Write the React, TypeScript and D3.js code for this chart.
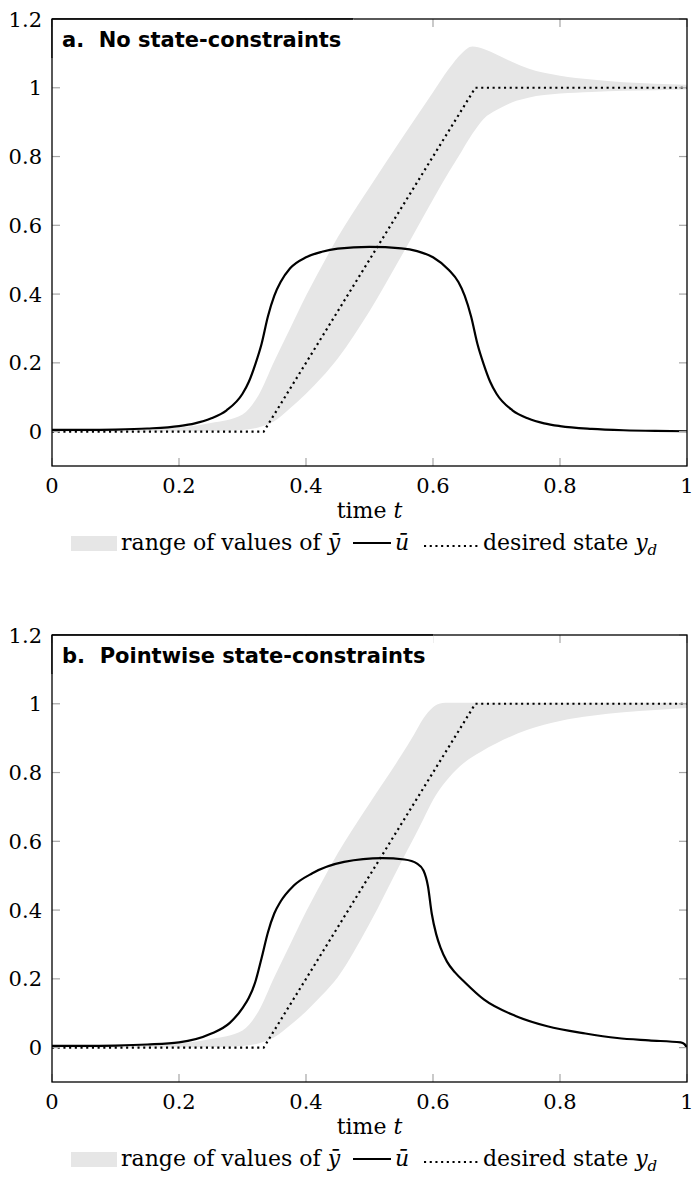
import React from 'react';
import * as d3 from 'd3';

const xTicks = [0, 0.2, 0.4, 0.6, 0.8, 1];
const xTickLabels = ['0', '0.2', '0.4', '0.6', '0.8', '1'];
const yTicks = [0, 0.2, 0.4, 0.6, 0.8, 1, 1.2];
const yTickLabels = ['0', '0.2', '0.4', '0.6', '0.8', '1', '1.2'];

const desiredTime = [0, 1 / 3, 2 / 3, 1];
const desiredState = [0, 0, 1, 1];

// Panel a: no state constraints
const uTimeA = [0, 0.05, 0.1, 0.15, 0.2, 0.225, 0.25, 0.275, 0.3, 0.31, 0.32, 0.33, 0.34, 0.35, 0.36, 0.375, 0.4, 0.425, 0.45, 0.5, 0.55, 0.575, 0.6, 0.625, 0.64, 0.65, 0.66, 0.67, 0.68, 0.69, 0.7, 0.725, 0.75, 0.775, 0.8, 0.85, 0.9, 0.95, 1];
const uValueA = [0.005, 0.005, 0.006, 0.009, 0.016, 0.024, 0.038, 0.062, 0.11, 0.145, 0.195, 0.255, 0.335, 0.395, 0.435, 0.475, 0.507, 0.523, 0.532, 0.537, 0.533, 0.525, 0.507, 0.47, 0.435, 0.395, 0.335, 0.255, 0.195, 0.145, 0.11, 0.062, 0.038, 0.024, 0.016, 0.008, 0.004, 0.002, 0.001];
const bandTimeA = [0, 0.1, 0.2, 0.25, 0.3, 0.325, 0.35, 0.375, 0.4, 0.425, 0.45, 0.5, 0.55, 0.6, 0.625, 0.645, 0.662, 0.68, 0.7, 0.725, 0.75, 0.8, 0.85, 0.9, 0.95, 1];
const bandUpperA = [0.004, 0.005, 0.012, 0.025, 0.05, 0.105, 0.205, 0.3, 0.395, 0.482, 0.565, 0.71, 0.85, 0.987, 1.055, 1.1, 1.12, 1.113, 1.097, 1.075, 1.056, 1.035, 1.024, 1.016, 1.012, 1.009];
const bandLowerA = [0, 0, 0.001, 0.002, 0.005, 0.012, 0.03, 0.068, 0.11, 0.158, 0.213, 0.35, 0.51, 0.675, 0.755, 0.815, 0.866, 0.91, 0.935, 0.958, 0.971, 0.983, 0.988, 0.991, 0.993, 0.995];

// Panel b: pointwise state constraints
const uTimeB = [0, 0.05, 0.1, 0.15, 0.2, 0.25, 0.28, 0.3, 0.31, 0.32, 0.33, 0.34, 0.35, 0.36, 0.38, 0.41, 0.46, 0.52, 0.555, 0.575, 0.585, 0.592, 0.598, 0.605, 0.612, 0.622, 0.635, 0.65, 0.68, 0.73, 0.78, 0.84, 0.89, 0.94, 0.99, 0.996, 1];
const uValueB = [0.005, 0.005, 0.006, 0.009, 0.015, 0.04, 0.072, 0.115, 0.145, 0.19, 0.26, 0.335, 0.39, 0.425, 0.47, 0.507, 0.54, 0.551, 0.547, 0.535, 0.515, 0.47, 0.39, 0.33, 0.29, 0.25, 0.218, 0.19, 0.14, 0.092, 0.062, 0.041, 0.028, 0.021, 0.015, 0.01, 0.0];
const bandTimeB = [0, 0.1, 0.2, 0.25, 0.3, 0.325, 0.35, 0.375, 0.4, 0.425, 0.45, 0.5, 0.55, 0.57, 0.585, 0.6, 0.615, 0.625, 0.65, 0.675, 0.7, 0.75, 0.8, 0.85, 0.9, 0.95, 1];
const bandUpperB = [0.004, 0.005, 0.012, 0.025, 0.05, 0.105, 0.205, 0.3, 0.395, 0.482, 0.565, 0.71, 0.85, 0.91, 0.958, 0.99, 1.002, 1.003, 1.003, 1.003, 1.003, 1.003, 1.003, 1.003, 1.003, 1.003, 1.003];
const bandLowerB = [0, 0, 0.001, 0.002, 0.005, 0.012, 0.03, 0.065, 0.105, 0.152, 0.205, 0.36, 0.54, 0.61, 0.665, 0.72, 0.762, 0.785, 0.83, 0.86, 0.885, 0.925, 0.95, 0.965, 0.975, 0.982, 0.988];

const SERIF = '"DejaVu Serif", serif';
const SANS = '"DejaVu Sans", sans-serif';
const BAND = '#e6e6e6';
const TICK = '#a6a6a6';
const DOT_W = 2.2;
const DOT_DASH = '2.1 3.6';

type PanelProps = {
  id: string;
  top: number;
  title: string;
  titleBoxRight: number;
  uTime: number[];
  uValue: number[];
  bandTime: number[];
  bandUpper: number[];
  bandLower: number[];
};

const LEFT = 52;
const RIGHT = 687;
const PLOT_H = 447;

function Panel(p: PanelProps) {
  const bottom = p.top + PLOT_H;
  const x = d3.scaleLinear().domain([0, 1]).range([LEFT, RIGHT]);
  const y = d3.scaleLinear().domain([-0.1, 1.2]).range([bottom, p.top]);

  const band = d3
    .area<number>()
    .x((_, i) => x(p.bandTime[i]))
    .y0((_, i) => y(p.bandLower[i]))
    .y1((_, i) => y(p.bandUpper[i]))
    .curve(d3.curveMonotoneX)(p.bandTime) as string;

  const uPath = d3
    .line<number>()
    .x((_, i) => x(p.uTime[i]))
    .y((_, i) => y(p.uValue[i]))
    .curve(d3.curveMonotoneX)(p.uTime) as string;

  const dPath = d3
    .line<number>()
    .x((_, i) => x(desiredTime[i]))
    .y((_, i) => y(desiredState[i]))(desiredTime) as string;

  const tickLen = 8;
  const legendY = bottom + 84;

  return (
    <g>
      <defs>
        <clipPath id={`clip-${p.id}`}>
          <rect x={LEFT} y={p.top} width={RIGHT - LEFT} height={PLOT_H} />
        </clipPath>
      </defs>
      <g clipPath={`url(#clip-${p.id})`}>
        <path d={band} fill={BAND} stroke="none" />
        <path d={dPath} fill="none" stroke="#000" strokeWidth={DOT_W} strokeDasharray={DOT_DASH} />
        <path d={uPath} fill="none" stroke="#000" strokeWidth={2.2} strokeLinejoin="round" />
      </g>
      {xTicks.map((t) => (
        <g key={`xt${t}`} stroke={TICK} strokeWidth={1.2}>
          <line x1={x(t)} x2={x(t)} y1={bottom} y2={bottom - tickLen} />
          <line x1={x(t)} x2={x(t)} y1={p.top} y2={p.top + tickLen} />
        </g>
      ))}
      {yTicks.map((v) => (
        <g key={`yt${v}`} stroke={TICK} strokeWidth={1.2}>
          <line x1={LEFT} x2={LEFT + tickLen} y1={y(v)} y2={y(v)} />
          <line x1={RIGHT} x2={RIGHT - tickLen} y1={y(v)} y2={y(v)} />
        </g>
      ))}
      <rect x={LEFT} y={p.top} width={RIGHT - LEFT} height={PLOT_H} fill="none" stroke="#000" strokeWidth={1.3} />
      <rect x={LEFT + 0.7} y={p.top + 0.7} width={p.titleBoxRight - LEFT} height={38} fill="#fff" />
      <line x1={LEFT} x2={LEFT} y1={p.top} y2={p.top + 39} stroke="#000" strokeWidth={1.3} />
      <line x1={LEFT} x2={p.titleBoxRight} y1={p.top} y2={p.top} stroke="#000" strokeWidth={1.3} />
      <text x={62} y={p.top + 27.5} fontFamily={SANS} fontWeight="bold" fontSize={21} fill="#000" style={{ whiteSpace: 'pre' }}>
        {p.title}
      </text>
      {xTicks.map((t, i) => (
        <text key={`xl${t}`} x={x(t)} y={bottom + 27} textAnchor="middle" fontFamily={SERIF} fontSize={21} fill="#000">
          {xTickLabels[i]}
        </text>
      ))}
      {yTicks.map((v, i) => (
        <text key={`yl${v}`} x={42} y={y(v)} dy="0.36em" textAnchor="end" fontFamily={SERIF} fontSize={21} fill="#000">
          {yTickLabels[i]}
        </text>
      ))}
      <text x={(LEFT + RIGHT) / 2} y={bottom + 52} textAnchor="middle" fontFamily={SERIF} fontSize={22} fill="#000">
        time <tspan fontStyle="italic">t</tspan>
      </text>
      <g fontFamily={SERIF} fontSize={22} fill="#000">
        <rect x={71} y={legendY - 14} width={46} height={15} fill={BAND} />
        <text x={121} y={legendY}>
          range of values of <tspan fontStyle="italic">ȳ</tspan>
        </text>
        <line x1={353} x2={391} y1={legendY - 7} y2={legendY - 7} stroke="#000" strokeWidth={2.2} />
        <text x={395} y={legendY} fontStyle="italic">ū</text>
        <line x1={424} x2={478} y1={legendY - 4} y2={legendY - 4} stroke="#000" strokeWidth={DOT_W} strokeDasharray={DOT_DASH} />
        <text x={483} y={legendY}>
          desired state <tspan fontStyle="italic">y</tspan>
          <tspan fontStyle="italic" fontSize={15} dy={5}>d</tspan>
        </text>
      </g>
    </g>
  );
}

export default function App() {
  return (
    <svg
      width={692}
      height={1189}
      viewBox="0 0 692 1189"
      style={{ position: 'absolute', left: 0, top: 0, background: '#fff' }}
    >
      <rect x={0} y={0} width={692} height={1189} fill="#fff" />
      <Panel
        id="a"
        top={19}
        title={'a.\u00A0 No state-constraints'}
        titleBoxRight={353}
        uTime={uTimeA}
        uValue={uValueA}
        bandTime={bandTimeA}
        bandUpper={bandUpperA}
        bandLower={bandLowerA}
      />
      <Panel
        id="b"
        top={635}
        title={'b.\u00A0 Pointwise state-constraints'}
        titleBoxRight={433}
        uTime={uTimeB}
        uValue={uValueB}
        bandTime={bandTimeB}
        bandUpper={bandUpperB}
        bandLower={bandLowerB}
      />
    </svg>
  );
}
